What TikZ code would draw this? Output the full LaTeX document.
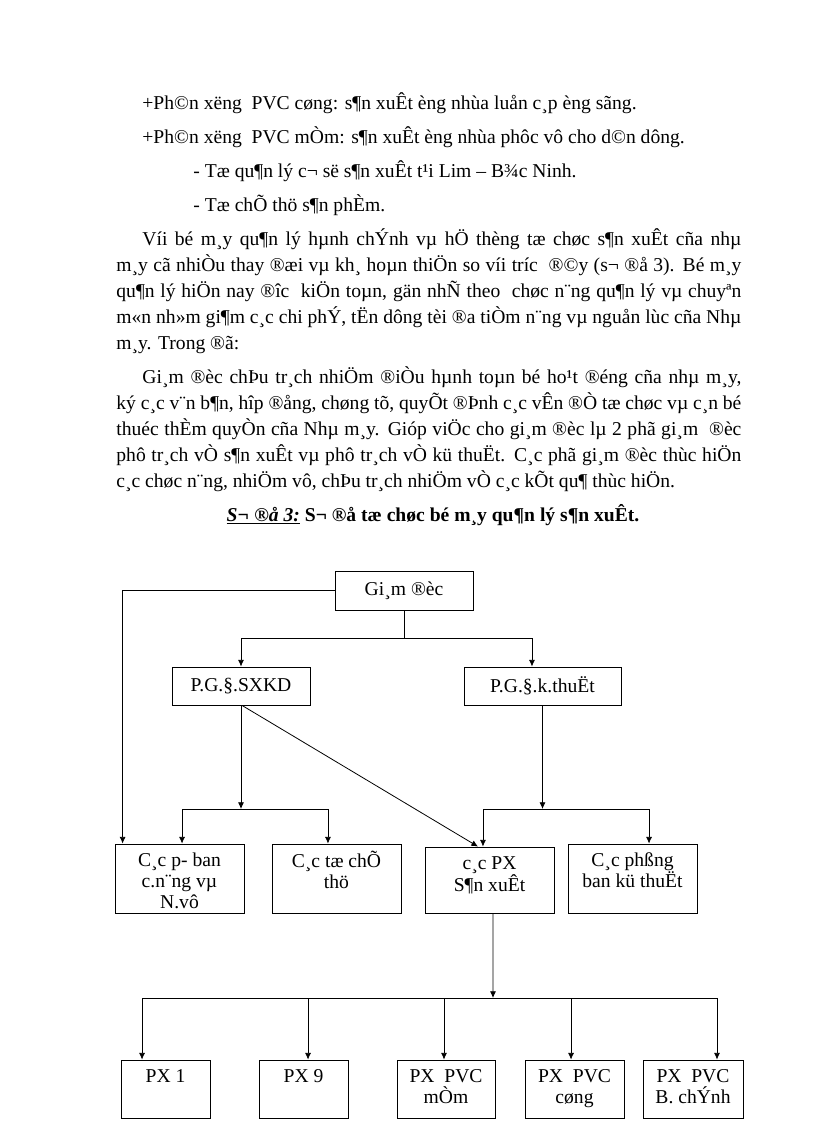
\documentclass[tikz,border=0pt]{standalone}
\usepackage{fontspec}
\setmainfont{Liberation Serif}
\usetikzlibrary{arrows.meta}
\tikzset{
  box/.style={rectangle, draw, line width=0.6pt, align=center, inner sep=0pt, font=\fontsize{14.7}{15.75}\selectfont},
  boxlbl/.style={anchor=north, align=center, inner sep=0pt, yshift=-5.6pt, font=\fontsize{14.7}{15.75}\selectfont},
  txtline/.style={anchor=base west, inner sep=0pt, font=\fontsize{14.7}{17}\selectfont},
}
\newcommand{\lblstrut}{\rule{0pt}{11pt}}
\newcommand{\fullline}[1]{\makebox[468.75pt][s]{#1}}
\newcommand{\firstline}[1]{\makebox[449.25pt][s]{#1}}
\begin{document}
\begin{tikzpicture}[x=0.75pt, y=-0.75pt, >={Latex[length=5pt,width=4.5pt]}, line width=0.6pt]
  \useasboundingbox (0,0) rectangle (816,1123);
  % Text
  \node (t1) [txtline] at (142,109.5) {+Ph©n xëng\ \ PVC cøng: s¶n xuÊt èng nhùa luån\ c¸p èng sãng.};
  \node (t2) [txtline] at (142,143.5) {+Ph©n xëng\ \ PVC mÒm: s¶n xuÊt èng nhùa phôc vô cho d©n dông.};
  \node (t3) [txtline] at (193,177.5) {- Tæ qu¶n lý c¬ së s¶n xuÊt t¹i Lim – B¾c Ninh.};
  \node (t4) [txtline] at (193,211.5) {- Tæ chÕ thö s¶n phÈm.};
  \node (p1a) [txtline] at (142,245.5) {\firstline{Víi bé m¸y qu¶n lý hµnh chÝnh vµ hÖ thèng tæ chøc s¶n xuÊt cña nhµ}};
  \node (p1b) [txtline] at (116,271.5) {\fullline{m¸y cã nhiÒu thay ®æi vµ kh¸ hoµn thiÖn so víi tríc\ \ ®©y (s¬ ®å 3). Bé m¸y}};
  \node (p1c) [txtline] at (116,297.5) {\fullline{qu¶n lý hiÖn nay ®îc\ \ kiÖn toµn, gän nhÑ theo\ \ chøc n¨ng qu¶n lý vµ chuyªn}};
  \node (p1d) [txtline] at (116,323.5) {\fullline{m«n nh»m gi¶m c¸c chi phÝ, tËn dông tèi ®a tiÒm n¨ng vµ nguån lùc cña Nhµ}};
  \node (p1e) [txtline] at (116,349.5) {m¸y. Trong ®ã:};
  \node (p2a) [txtline] at (142,383.5) {\firstline{Gi¸m ®èc chÞu tr¸ch nhiÖm ®iÒu hµnh toµn bé ho¹t ®éng cña nhµ m¸y,}};
  \node (p2b) [txtline] at (116,409.5) {\fullline{ký c¸c v¨n b¶n, hîp ®ång, chøng tõ, quyÕt ®Þnh c¸c vÊn ®Ò tæ chøc vµ c¸n bé}};
  \node (p2c) [txtline] at (116,435.5) {\fullline{thuéc thÈm quyÒn cña Nhµ m¸y. Gióp viÖc cho gi¸m ®èc lµ 2 phã gi¸m\ \ ®èc}};
  \node (p2d) [txtline] at (116,461.5) {\fullline{phô tr¸ch vÒ s¶n xuÊt vµ phô tr¸ch vÒ kü thuËt. C¸c phã gi¸m ®èc thùc hiÖn}};
  \node (p2e) [txtline] at (116,487.5) {c¸c chøc n¨ng, nhiÖm vô, chÞu tr¸ch nhiÖm vÒ c¸c kÕt qu¶ thùc hiÖn.};
  \node (cap) [txtline, anchor=base] at (433,521.5) {\textbf{\textit{\underline{S¬ ®å 3:}}} \textbf{S¬ ®å tæ chøc bé m¸y qu¶n lý s¶n xuÊt.}};
  % Nodes
  \node (gd) [box, minimum width=103.5pt, minimum height=29.25pt] at (404,590.5) {Gi¸m ®èc};
  \node (sxkd) [box, minimum width=103.5pt, minimum height=28.5pt] at (241,686) {P.G.§.SXKD};
  \node (kt) [box, minimum width=117.75pt, minimum height=28.5pt] at (542.5,686) {P.G.§.k.thuËt};
  \node (cpb) [box, minimum width=96.75pt, minimum height=51.75pt,
    label={[boxlbl, name=cpb-t]north:\lblstrut C¸c p- ban\\c.n¨ng vµ\\N.vô}] at (179.5,878.5) {};
  \node (ctc) [box, minimum width=96.75pt, minimum height=51.75pt,
    label={[boxlbl, name=ctc-t]north:\lblstrut C¸c tæ chÕ\\thö}] at (336.5,878.5) {};
  \node (cpx) [box, minimum width=96.75pt, minimum height=49.5pt,
    label={[boxlbl, name=cpx-t]north:\lblstrut c¸c PX\\S¶n xuÊt}] at (489.5,880) {};
  \node (cpk) [box, minimum width=96.75pt, minimum height=51.75pt,
    label={[boxlbl, name=cpk-t]north:\lblstrut C¸c phßng\\ban kü thuËt}] at (632.5,878.5) {};
  \node (px1) [box, minimum width=66.75pt, minimum height=43.5pt,
    label={[boxlbl, name=px1-t]north:\lblstrut PX 1}] at (165.5,1089) {};
  \node (px9) [box, minimum width=66.75pt, minimum height=43.5pt,
    label={[boxlbl, name=px9-t]north:\lblstrut PX 9}] at (303.5,1089) {};
  \node (pxm) [box, minimum width=73.5pt, minimum height=43.5pt,
    label={[boxlbl, name=pxm-t]north:\lblstrut PX\ \ PVC\\mÒm}] at (446,1089) {};
  \node (pxc) [box, minimum width=74.25pt, minimum height=43.5pt,
    label={[boxlbl, name=pxc-t]north:\lblstrut PX\ \ PVC\\cøng}] at (574.5,1089) {};
  \node (pxb) [box, minimum width=75pt, minimum height=43.5pt,
    label={[boxlbl, name=pxb-t]north:\lblstrut PX\ \ PVC\\B. chÝnh}] at (693,1089) {};
  \coordinate (j1) at (404,638);
  \coordinate (j2) at (241,809);
  \coordinate (j3) at (542.5,809);
  \coordinate (j4) at (493,998);
  % Arrow
  \draw[->] (gd.west) -| ([xshift=6pt]cpb.north west);
  \draw (gd.south) -- (j1);
  \draw[->] (j1) -| (sxkd.north);
  \draw[->] (j1) -| ([xshift=-7.9pt]kt.north);
  \draw[->] (sxkd.south) -- (j2);
  \draw[->] (j2) -| ([xshift=1.9pt]cpb.north);
  \draw[->] (j2) -| ([xshift=-6.4pt]ctc.north);
  \draw[->] (kt.south) -- (j3);
  \draw[->] (j3) -| ([xshift=-4.9pt]cpx.north);
  \draw[->] (j3) -| ([xshift=12.4pt]cpk.north);
  \draw[->] ([xshift=0.75pt]sxkd.south) -- ([xshift=-8.6pt]cpx.north);
  \draw[->] ([xshift=2.6pt]cpx.south) -- (j4);
  \draw[->] (j4) -| ([xshift=-17.6pt]px1.north);
  \draw[->] (j4) -| ([xshift=3.4pt]px9.north);
  \draw[->] (j4) -| ([xshift=-1.5pt]pxm.north);
  \draw[->] (j4) -| ([xshift=-2.6pt]pxc.north);
  \draw[->] (j4) -| ([xshift=18pt]pxb.north);
\end{tikzpicture}
\end{document}
